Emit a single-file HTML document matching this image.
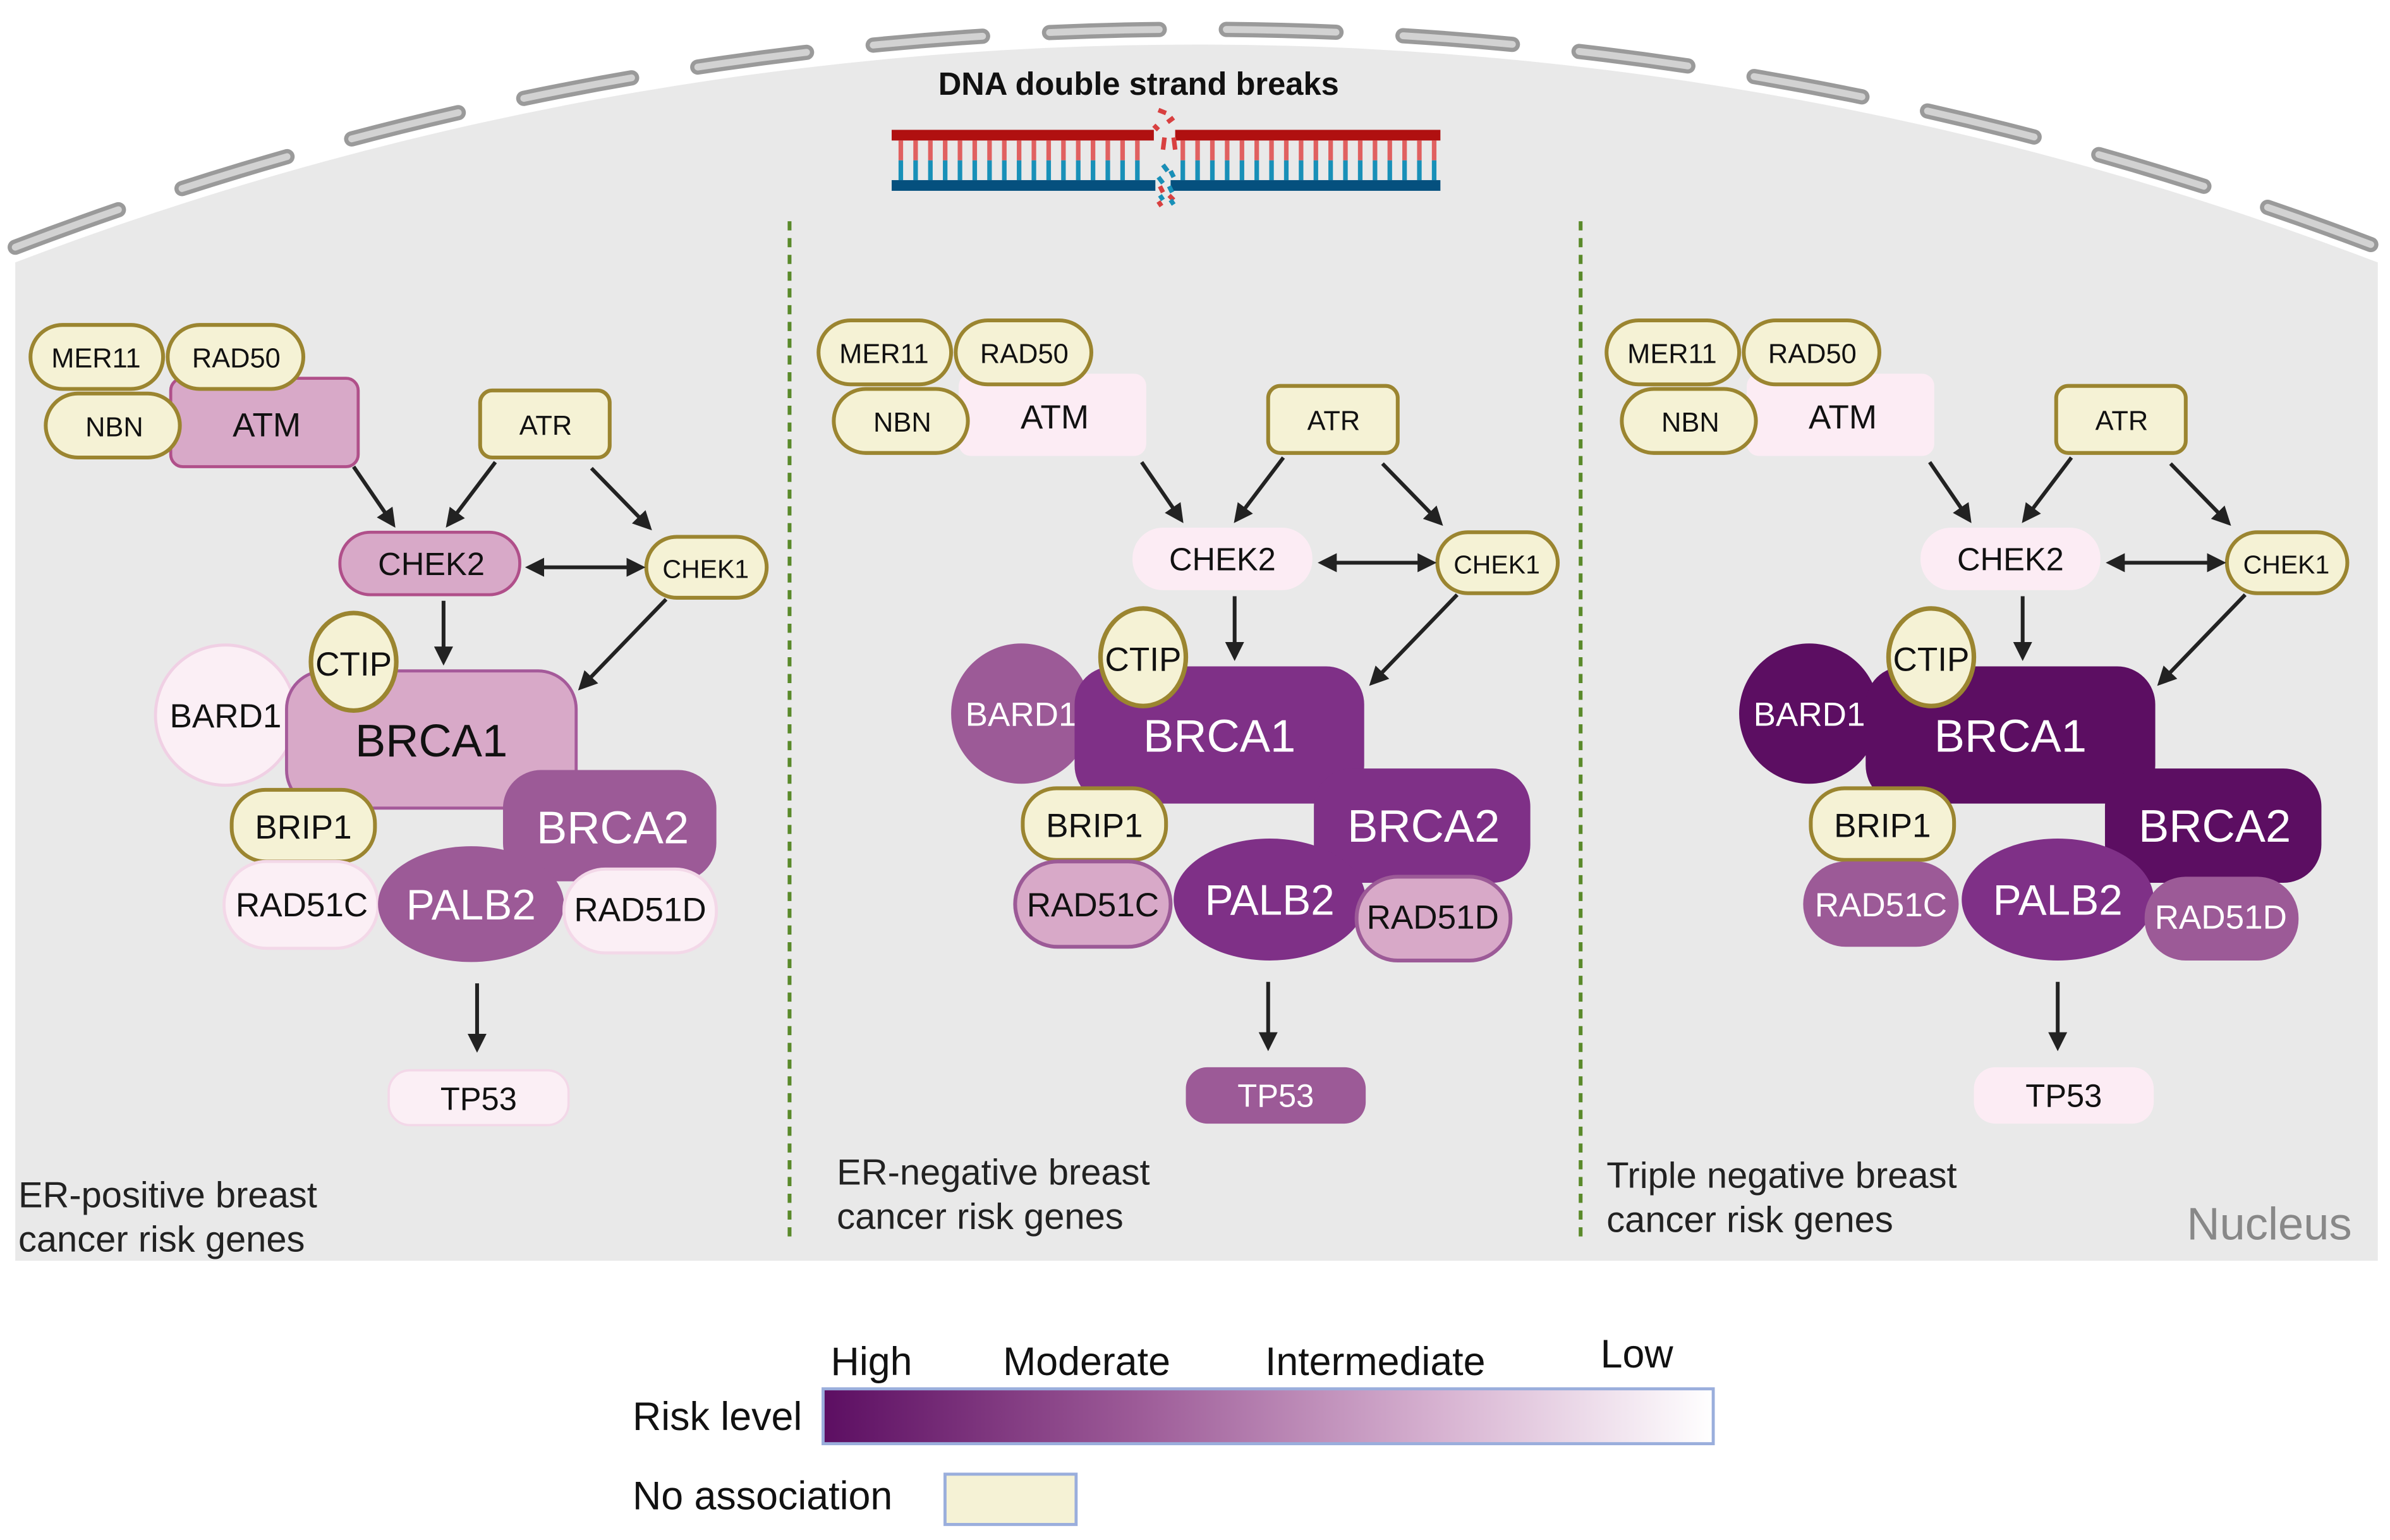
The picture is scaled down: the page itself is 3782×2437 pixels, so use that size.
<!DOCTYPE html>
<html><head><meta charset="utf-8"><style>
html,body{margin:0;padding:0;background:#fff}
svg{display:block}
text{font-family:"Liberation Sans",sans-serif}
</style></head><body>
<svg width="3782" height="2437" viewBox="0 0 1568 1010" xmlns="http://www.w3.org/2000/svg">
<defs>
<marker id="ah" viewBox="0 0 10 10" refX="8" refY="5" markerWidth="5" markerHeight="5" orient="auto-start-reverse"><path d="M0,0 L10,5 L0,10 z" fill="#222"/></marker>
<linearGradient id="rg" x1="0" x2="1" y1="0" y2="0"><stop offset="0" stop-color="#5c0e62"/><stop offset="0.35" stop-color="#9c5a97"/><stop offset="0.7" stop-color="#d8b4d2"/><stop offset="1" stop-color="#ffffff"/></linearGradient>
</defs>
<rect width="1568" height="1010" fill="#fff"/>
<path d="M10,172 A2172,2172 0 0 1 1560,172 L1560,827 L10,827 Z" fill="#e9e9e9"/>
<path d="M10,162 A2172,2172 0 0 1 1560,162" fill="none" stroke="#9a9a9a" stroke-width="10" stroke-dasharray="72,44" stroke-linecap="round"/>
<path d="M10,162 A2172,2172 0 0 1 1560,162" fill="none" stroke="#d2d2d2" stroke-width="4.5" stroke-dasharray="72,44" stroke-linecap="round"/>

<!-- DNA -->
<text x="747" y="62" font-size="21" font-weight="bold" text-anchor="middle" fill="#111">DNA double strand breaks</text>
<g>
<rect x="585" y="85" width="172" height="7" fill="#b01010"/><rect x="771" y="85" width="174" height="7" fill="#b01010"/>
<rect x="585" y="118" width="173" height="7" fill="#05507e"/><rect x="768" y="118" width="177" height="7" fill="#05507e"/>
<path d="M591,92v13M600.7,92v13M610.4,92v13M620.1,92v13M629.8,92v13M639.5,92v13M649.2,92v13M658.9,92v13M668.6,92v13M678.3,92v13M688,92v13M697.7,92v13M707.4,92v13M717.1,92v13M726.8,92v13M736.5,92v13M746.2,92v13M776,92v13M785.7,92v13M795.4,92v13M805.1,92v13M814.8,92v13M824.5,92v13M834.2,92v13M843.9,92v13M853.6,92v13M863.3,92v13M873,92v13M882.7,92v13M892.4,92v13M902.1,92v13M911.8,92v13M921.5,92v13M931.2,92v13M940.9,92v13" stroke="#e06060" stroke-width="3"/>
<path d="M591,105v13M600.7,105v13M610.4,105v13M620.1,105v13M629.8,105v13M639.5,105v13M649.2,105v13M658.9,105v13M668.6,105v13M678.3,105v13M688,105v13M697.7,105v13M707.4,105v13M717.1,105v13M726.8,105v13M736.5,105v13M746.2,105v13M776,105v13M785.7,105v13M795.4,105v13M805.1,105v13M814.8,105v13M824.5,105v13M834.2,105v13M843.9,105v13M853.6,105v13M863.3,105v13M873,105v13M882.7,105v13M892.4,105v13M902.1,105v13M911.8,105v13M921.5,105v13M931.2,105v13M940.9,105v13" stroke="#1890b8" stroke-width="3"/>
<path d="M760,72l5,2M766,80l4,-3M757,82l3,3M764,90l-1,8M770,90l1,8M763,108l3,4M768,112l2,4M761,122l2,4M767,128l3,3M760,132l2,3" stroke="#d84040" stroke-width="3"/>
<path d="M763,108l3,4M768,112l2,4M760,116l3,4M767,122l2,4M761,128l2,3M768,131l2,3" stroke="#1890b8" stroke-width="3"/>
</g>

<!-- dividers -->
<line x1="518" y1="145" x2="518" y2="815" stroke="#5a8a2a" stroke-width="2.5" stroke-dasharray="6,5"/>
<line x1="1037" y1="145" x2="1037" y2="815" stroke="#5a8a2a" stroke-width="2.5" stroke-dasharray="6,5"/>

<!-- PANEL 1 -->
<g>
<rect x="112" y="248" width="123" height="58" rx="8" fill="#d8a9c8" stroke="#b0508a" stroke-width="2"/>
<text x="175" y="286" font-size="22" text-anchor="middle" fill="#111">ATM</text>
<rect x="20" y="213" width="87" height="42" rx="21" fill="#f5f2d5" stroke="#9b8530" stroke-width="2.5"/>
<text x="63" y="241" font-size="18" text-anchor="middle" fill="#111">MER11</text>
<rect x="110" y="213" width="89" height="42" rx="21" fill="#f5f2d5" stroke="#9b8530" stroke-width="2.5"/>
<text x="155" y="241" font-size="18" text-anchor="middle" fill="#111">RAD50</text>
<rect x="30" y="258" width="88" height="42" rx="21" fill="#f5f2d5" stroke="#9b8530" stroke-width="2.5"/>
<text x="75" y="286" font-size="18" text-anchor="middle" fill="#111">NBN</text>
<rect x="315" y="256" width="85" height="44" rx="8" fill="#f5f2d5" stroke="#9b8530" stroke-width="2.5"/>
<text x="358" y="285" font-size="18" text-anchor="middle" fill="#111">ATR</text>
<rect x="223" y="349" width="118" height="41" rx="20" fill="#d8a9c8" stroke="#b04f8a" stroke-width="2"/>
<text x="283" y="377" font-size="21" text-anchor="middle" fill="#111">CHEK2</text>
<rect x="424" y="352" width="79" height="40" rx="20" fill="#f5f2d5" stroke="#9b8530" stroke-width="2.5"/>
<text x="463" y="379" font-size="17" text-anchor="middle" fill="#111">CHEK1</text>
<g stroke="#222" stroke-width="2.5" fill="none" marker-end="url(#ah)">
<line x1="347" y1="372" x2="421" y2="372" marker-start="url(#ah)"/>
<line x1="232" y1="306" x2="258" y2="344"/>
<line x1="325" y1="303" x2="294" y2="344"/>
<line x1="388" y1="307" x2="426" y2="346"/>
<line x1="291" y1="394" x2="291" y2="434"/>
<line x1="437" y1="393" x2="381" y2="451"/>
<line x1="313" y1="645" x2="313" y2="688"/>
</g>
<circle cx="148" cy="469" r="46" fill="#fbeff5" stroke="#f0d0e4" stroke-width="2"/>
<text x="148" y="477" font-size="22" text-anchor="middle" fill="#111">BARD1</text>
<rect x="188" y="440" width="190" height="90" rx="25" fill="#d8a9c8" stroke="#a55a9a" stroke-width="2"/>
<text x="283" y="496" font-size="30" text-anchor="middle" fill="#111">BRCA1</text>
<ellipse cx="232" cy="434" rx="28" ry="32" fill="#f5f2d5" stroke="#9b8530" stroke-width="3"/>
<text x="232" y="443" font-size="22" text-anchor="middle" fill="#111">CTIP</text>
<rect x="330" y="505" width="140" height="73" rx="25" fill="#9c5a97"/>
<text x="402" y="553" font-size="30" text-anchor="middle" fill="#fff">BRCA2</text>
<rect x="152" y="518" width="94" height="47" rx="22" fill="#f5f2d5" stroke="#9b8530" stroke-width="2.5"/>
<text x="199" y="550" font-size="22" text-anchor="middle" fill="#111">BRIP1</text>
<rect x="147" y="565" width="101" height="57" rx="28" fill="#fbeff5" stroke="#f3d8e8" stroke-width="2"/>
<text x="198" y="601" font-size="22" text-anchor="middle" fill="#111">RAD51C</text>
<ellipse cx="309" cy="593" rx="61" ry="38" fill="#9c5a97"/>
<text x="309" y="603" font-size="28" text-anchor="middle" fill="#fff">PALB2</text>
<rect x="370" y="570" width="100" height="55" rx="27" fill="#fbeff5" stroke="#f3d8e8" stroke-width="2"/>
<text x="420" y="604" font-size="22" text-anchor="middle" fill="#111">RAD51D</text>
<rect x="255" y="702" width="118" height="36" rx="14" fill="#fbeff5" stroke="#f3d8e8" stroke-width="1.5"/>
<text x="314" y="728" font-size="21" text-anchor="middle" fill="#111">TP53</text>
<text x="12" y="792" font-size="24" fill="#222">ER-positive breast</text>
<text x="12" y="821" font-size="24" fill="#222">cancer risk genes</text>
</g>

<!-- PANEL 2 -->
<g transform="translate(517,-3)">
<rect x="112" y="248" width="123" height="54" rx="8" fill="#fcecf4"/>
<text x="175" y="284" font-size="22" text-anchor="middle" fill="#111">ATM</text>
<rect x="20" y="213" width="87" height="42" rx="21" fill="#f5f2d5" stroke="#9b8530" stroke-width="2.5"/>
<text x="63" y="241" font-size="18" text-anchor="middle" fill="#111">MER11</text>
<rect x="110" y="213" width="89" height="42" rx="21" fill="#f5f2d5" stroke="#9b8530" stroke-width="2.5"/>
<text x="155" y="241" font-size="18" text-anchor="middle" fill="#111">RAD50</text>
<rect x="30" y="258" width="88" height="42" rx="21" fill="#f5f2d5" stroke="#9b8530" stroke-width="2.5"/>
<text x="75" y="286" font-size="18" text-anchor="middle" fill="#111">NBN</text>
<rect x="315" y="256" width="85" height="44" rx="8" fill="#f5f2d5" stroke="#9b8530" stroke-width="2.5"/>
<text x="358" y="285" font-size="18" text-anchor="middle" fill="#111">ATR</text>
<rect x="226" y="349" width="118" height="41" rx="20" fill="#fcecf4"/>
<text x="285" y="377" font-size="21" text-anchor="middle" fill="#111">CHEK2</text>
<rect x="426" y="352" width="79" height="40" rx="20" fill="#f5f2d5" stroke="#9b8530" stroke-width="2.5"/>
<text x="465" y="379" font-size="17" text-anchor="middle" fill="#111">CHEK1</text>
<g stroke="#222" stroke-width="2.5" fill="none" marker-end="url(#ah)">
<line x1="350" y1="372" x2="423" y2="372" marker-start="url(#ah)"/>
<line x1="232" y1="306" x2="258" y2="344"/>
<line x1="325" y1="303" x2="294" y2="344"/>
<line x1="390" y1="307" x2="428" y2="346"/>
<line x1="293" y1="394" x2="293" y2="434"/>
<line x1="439" y1="393" x2="383" y2="451"/>
<line x1="315" y1="647" x2="315" y2="690"/>
</g>
<circle cx="153" cy="471" r="46" fill="#9c5a97"/>
<text x="153" y="479" font-size="22" text-anchor="middle" fill="#fff">BARD1</text>
<rect x="188" y="440" width="190" height="90" rx="25" fill="#7f3087"/>
<text x="283" y="496" font-size="30" text-anchor="middle" fill="#fff">BRCA1</text>
<ellipse cx="233" cy="434" rx="28" ry="32" fill="#f5f2d5" stroke="#9b8530" stroke-width="3"/>
<text x="233" y="443" font-size="22" text-anchor="middle" fill="#111">CTIP</text>
<rect x="345" y="507" width="142" height="75" rx="25" fill="#7f3087"/>
<text x="417" y="555" font-size="30" text-anchor="middle" fill="#fff">BRCA2</text>
<rect x="154" y="520" width="94" height="47" rx="22" fill="#f5f2d5" stroke="#9b8530" stroke-width="2.5"/>
<text x="201" y="552" font-size="22" text-anchor="middle" fill="#111">BRIP1</text>
<rect x="149" y="568" width="102" height="56" rx="28" fill="#d8a9c8" stroke="#9c5a97" stroke-width="2.5"/>
<text x="200" y="604" font-size="22" text-anchor="middle" fill="#111">RAD51C</text>
<ellipse cx="316" cy="593" rx="63" ry="40" fill="#7f3087"/>
<text x="316" y="603" font-size="28" text-anchor="middle" fill="#fff">PALB2</text>
<rect x="373" y="578" width="101" height="55" rx="27" fill="#d8a9c8" stroke="#9c5a97" stroke-width="2.5"/>
<text x="423" y="612" font-size="22" text-anchor="middle" fill="#111">RAD51D</text>
<rect x="261" y="703" width="118" height="37" rx="14" fill="#9c5a97"/>
<text x="320" y="729" font-size="21" text-anchor="middle" fill="#fff">TP53</text>
<text x="32" y="780" font-size="24" fill="#222">ER-negative breast</text>
<text x="32" y="809" font-size="24" fill="#222">cancer risk genes</text>
</g>

<!-- PANEL 3 -->
<g transform="translate(1034,-3)">
<rect x="112" y="248" width="123" height="54" rx="8" fill="#fcecf4"/>
<text x="175" y="284" font-size="22" text-anchor="middle" fill="#111">ATM</text>
<rect x="20" y="213" width="87" height="42" rx="21" fill="#f5f2d5" stroke="#9b8530" stroke-width="2.5"/>
<text x="63" y="241" font-size="18" text-anchor="middle" fill="#111">MER11</text>
<rect x="110" y="213" width="89" height="42" rx="21" fill="#f5f2d5" stroke="#9b8530" stroke-width="2.5"/>
<text x="155" y="241" font-size="18" text-anchor="middle" fill="#111">RAD50</text>
<rect x="30" y="258" width="88" height="42" rx="21" fill="#f5f2d5" stroke="#9b8530" stroke-width="2.5"/>
<text x="75" y="286" font-size="18" text-anchor="middle" fill="#111">NBN</text>
<rect x="315" y="256" width="85" height="44" rx="8" fill="#f5f2d5" stroke="#9b8530" stroke-width="2.5"/>
<text x="358" y="285" font-size="18" text-anchor="middle" fill="#111">ATR</text>
<rect x="226" y="349" width="118" height="41" rx="20" fill="#fcecf4"/>
<text x="285" y="377" font-size="21" text-anchor="middle" fill="#111">CHEK2</text>
<rect x="427" y="352" width="79" height="40" rx="20" fill="#f5f2d5" stroke="#9b8530" stroke-width="2.5"/>
<text x="466" y="379" font-size="17" text-anchor="middle" fill="#111">CHEK1</text>
<g stroke="#222" stroke-width="2.5" fill="none" marker-end="url(#ah)">
<line x1="350" y1="372" x2="424" y2="372" marker-start="url(#ah)"/>
<line x1="232" y1="306" x2="258" y2="344"/>
<line x1="325" y1="303" x2="294" y2="344"/>
<line x1="390" y1="307" x2="428" y2="346"/>
<line x1="293" y1="394" x2="293" y2="434"/>
<line x1="439" y1="393" x2="383" y2="451"/>
<line x1="316" y1="647" x2="316" y2="690"/>
</g>
<circle cx="153" cy="471" r="46" fill="#5c0e62"/>
<text x="153" y="479" font-size="22" text-anchor="middle" fill="#fff">BARD1</text>
<rect x="190" y="440" width="190" height="90" rx="25" fill="#5c0e62"/>
<text x="285" y="496" font-size="30" text-anchor="middle" fill="#fff">BRCA1</text>
<ellipse cx="233" cy="434" rx="28" ry="32" fill="#f5f2d5" stroke="#9b8530" stroke-width="3"/>
<text x="233" y="443" font-size="22" text-anchor="middle" fill="#111">CTIP</text>
<rect x="347" y="507" width="142" height="75" rx="25" fill="#5c0e62"/>
<text x="419" y="555" font-size="30" text-anchor="middle" fill="#fff">BRCA2</text>
<rect x="154" y="520" width="94" height="47" rx="22" fill="#f5f2d5" stroke="#9b8530" stroke-width="2.5"/>
<text x="201" y="552" font-size="22" text-anchor="middle" fill="#111">BRIP1</text>
<rect x="149" y="568" width="102" height="56" rx="28" fill="#9c5a97"/>
<text x="200" y="604" font-size="22" text-anchor="middle" fill="#fff">RAD51C</text>
<ellipse cx="316" cy="593" rx="63" ry="40" fill="#7f3087"/>
<text x="316" y="603" font-size="28" text-anchor="middle" fill="#fff">PALB2</text>
<rect x="373" y="578" width="101" height="55" rx="27" fill="#9c5a97"/>
<text x="423" y="612" font-size="22" text-anchor="middle" fill="#fff">RAD51D</text>
<rect x="261" y="703" width="118" height="37" rx="14" fill="#fcecf4"/>
<text x="320" y="729" font-size="21" text-anchor="middle" fill="#111">TP53</text>
<text x="20" y="782" font-size="24" fill="#222">Triple negative breast</text>
<text x="20" y="811" font-size="24" fill="#222">cancer risk genes</text>
</g>
<text x="1543" y="813" font-size="30" text-anchor="end" fill="#888">Nucleus</text>

<!-- Legend -->
<text x="545" y="902" font-size="26" fill="#111">High</text>
<text x="658" y="902" font-size="26" fill="#111">Moderate</text>
<text x="830" y="902" font-size="26" fill="#111">Intermediate</text>
<text x="1050" y="897" font-size="26" fill="#111">Low</text>
<text x="415" y="938" font-size="26" fill="#111">Risk level</text>
<rect x="540" y="911" width="584" height="36" fill="url(#rg)" stroke="#9aaedc" stroke-width="2"/>
<text x="415" y="990" font-size="26" fill="#111">No association</text>
<rect x="620" y="967" width="86" height="33" fill="#f5f2d5" stroke="#9aaedc" stroke-width="2"/>
</svg>
</body></html>
